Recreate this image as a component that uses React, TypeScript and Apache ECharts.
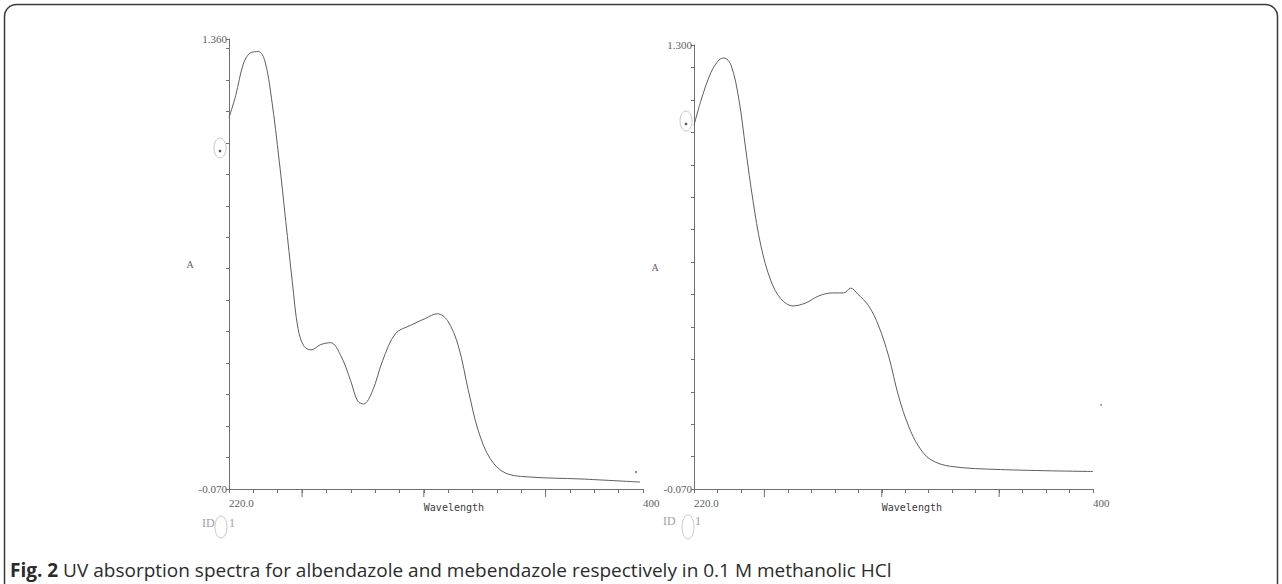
import React, { useEffect, useRef } from "react";
import * as echarts from "echarts";

// ---- data ----
const LEFT_WL = [220, 222.9, 226.2, 229.1, 232.8, 235.6, 238.5, 241.8, 244.7, 247.5, 250.0, 252.5, 255.6, 259.9, 264.2, 268.6, 272.9, 275.9, 278.5, 282.4, 286.8, 292.4, 298.9, 305.4, 310.6, 315.0, 319.7, 324.1, 328.4, 333.6, 340.1, 351.0, 372.6, 398.7];
const LEFT_ABS = [1.11, 1.18, 1.28, 1.315, 1.32, 1.29, 1.17, 0.975, 0.78, 0.59, 0.44, 0.385, 0.372, 0.389, 0.395, 0.354, 0.274, 0.21, 0.2, 0.242, 0.338, 0.424, 0.45, 0.472, 0.487, 0.465, 0.385, 0.242, 0.115, 0.026, -0.019, -0.032, -0.038, -0.048];

const RIGHT_WL = [220, 223.2, 227.7, 231.3, 233.5, 236.7, 240.3, 243.4, 246.6, 250.2, 254.7, 259.2, 264.6, 270.4, 276.3, 282.6, 287.5, 290.7, 293.8, 298.8, 303.3, 307.8, 312.3, 316.8, 321.3, 326.7, 335.7, 358.2, 400];
const RIGHT_ABS = [1.052, 1.13, 1.216, 1.254, 1.26, 1.238, 1.13, 0.975, 0.82, 0.68, 0.572, 0.517, 0.495, 0.504, 0.526, 0.535, 0.535, 0.55, 0.532, 0.495, 0.433, 0.34, 0.216, 0.124, 0.062, 0.021, 0.0, -0.01, -0.016];

const WL_MIN = 220;
const WL_MAX = 400;
const X_TICK_COUNT = 17; // divisions on the printed wavelength axis
const X_LABEL_INDEX = [0, 8, 17];
const X_LABEL_TEXT = ["220.0", "Wavelength", "400"];
const LONG_TICKS = [3, 8, 13];

const LEFT_Y = { min: -0.07, max: 1.36, top: "1.360", bottom: "-0.070" };
const RIGHT_Y = { min: -0.07, max: 1.3, top: "1.300", bottom: "-0.070" };
const Y_TICK_STEP = 0.1;

const CAPTION_BOLD = "Fig. 2";
const CAPTION_TEXT = " UV absorption spectra for albendazole and mebendazole respectively in 0.1 M methanolic HCl";

const INK = "#5e5e5e";
const AXIS = "#707070";
const LABEL_FONT = "Liberation Serif";

function xLabel(v: number) {
  const i = X_LABEL_INDEX.findIndex((k) => Math.abs(k - v) < 1e-6);
  if (i < 0) return "";
  return X_LABEL_TEXT[i] === "Wavelength" ? "{w|Wavelength}" : X_LABEL_TEXT[i];
}

function buildPanel(idx: number, yr: { min: number; max: number; top: string; bottom: string }) {
  const span = +(yr.max - yr.min).toFixed(4);
  const xAxes = [
    { gridIndex: idx, type: "value", min: WL_MIN, max: WL_MAX, show: false },
    {
      gridIndex: idx,
      type: "value",
      min: 0,
      max: X_TICK_COUNT,
      interval: 1,
      position: "bottom",
      axisLine: { show: true, lineStyle: { color: AXIS, width: 1 } },
      axisTick: { show: true, length: 4, lineStyle: { color: AXIS } },
      splitLine: { show: false },
      axisLabel: {
        formatter: xLabel,
        align: "left",
        margin: 8,
        color: INK,
        fontFamily: LABEL_FONT,
        fontSize: 11,
        rich: { w: { fontFamily: "DejaVu Sans Mono", fontSize: 10, color: "#3c3c3c", padding: [5, 0, 0, 0] } },
      },
    },
  ];
  const yAxes = [
    { gridIndex: idx, type: "value", min: yr.min, max: yr.max, show: false },
    {
      gridIndex: idx,
      type: "value",
      min: 0,
      max: span,
      interval: Y_TICK_STEP,
      position: "left",
      name: "A",
      nameLocation: "middle",
      nameRotate: 0,
      nameGap: 10,
      nameTextStyle: { color: INK, fontFamily: LABEL_FONT, fontSize: 10, padding: [14, 0, 0, 0] },
      axisLine: { show: true, lineStyle: { color: AXIS, width: 1 } },
      axisTick: { show: true, length: 3, lineStyle: { color: AXIS } },
      splitLine: { show: false },
      axisLabel: {
        margin: 2,
        color: INK,
        fontFamily: LABEL_FONT,
        fontSize: 11,
        formatter: (v: number) => (Math.abs(v) < 1e-6 ? yr.bottom : Math.abs(v - span) < 1e-6 ? yr.top : ""),
      },
    },
  ];
  return { xAxes, yAxes };
}

export default function App() {
  const ref = useRef<HTMLDivElement>(null);
  useEffect(() => {
    if (!ref.current) return;
    const chart = echarts.init(ref.current, undefined, { renderer: "svg" });
    const L = buildPanel(0, LEFT_Y);
    const R = buildPanel(1, RIGHT_Y);
    const xAxis = [...L.xAxes, ...R.xAxes];
    const yAxis = [...L.yAxes, ...R.yAxes];
    const longTick = (xi: number, yi: number) => ({
      type: "custom",
      xAxisIndex: xi,
      yAxisIndex: yi,
      clip: false,
      silent: true,
      data: LONG_TICKS.map((v) => [v]),
      renderItem: (_p: any, api: any) => {
        const p = api.coord([api.value(0), 0]);
        return {
          type: "line",
          shape: { x1: p[0], y1: p[1], x2: p[0], y2: p[1] + 8 },
          style: { stroke: AXIS, lineWidth: 1 },
        };
      },
    });
    const spectrum = (xi: number, yi: number, wl: number[], ab: number[]) => ({
      type: "line",
      xAxisIndex: xi,
      yAxisIndex: yi,
      data: wl.map((w, i) => [w, ab[i]]),
      smooth: 0.35,
      symbol: "none",
      lineStyle: { color: INK, width: 1 },
    });
    chart.setOption({
      animation: false,
      backgroundColor: "#ffffff",
      grid: [
        { left: 229, top: 39, width: 414, height: 450 },
        { left: 694, top: 45, width: 399, height: 444 },
      ],
      xAxis,
      yAxis,
      series: [
        spectrum(0, 0, LEFT_WL, LEFT_ABS),
        longTick(1, 1),
        spectrum(2, 2, RIGHT_WL, RIGHT_ABS),
        longTick(3, 3),
      ],
      graphic: [
        {
          type: "rect",
          shape: { x: 4.5, y: 4.5, width: 1273, height: 640, r: 12 },
          style: { fill: "none", stroke: "#3a3a3a", lineWidth: 1.5 },
          silent: true,
        },
        {
          type: "text",
          x: 10,
          y: 570,
          style: {
            text: "{b|" + CAPTION_BOLD + "}" + CAPTION_TEXT,
            fontFamily: "Open Sans",
            fontSize: 19,
            fill: "#2b2b2b",
            verticalAlign: "middle",
            rich: { b: { fontFamily: "Open Sans", fontWeight: "bold", fontSize: 19, fill: "#2b2b2b" } },
          },
        },
        // "ID( )1" markers under each panel
        { type: "text", x: 202, y: 523, style: { text: "ID", fontFamily: LABEL_FONT, fontSize: 12, fill: "#a0a0a0", verticalAlign: "middle" } },
        { type: "ellipse", shape: { cx: 221, cy: 527, rx: 6, ry: 11 }, style: { fill: "none", stroke: "#c8c8c8", lineWidth: 1 } },
        { type: "text", x: 229, y: 523, style: { text: "1", fontFamily: LABEL_FONT, fontSize: 12, fill: "#a0a0a0", verticalAlign: "middle" } },
        { type: "text", x: 663, y: 521, style: { text: "ID", fontFamily: LABEL_FONT, fontSize: 12, fill: "#a0a0a0", verticalAlign: "middle" } },
        { type: "ellipse", shape: { cx: 688, cy: 527, rx: 6, ry: 12 }, style: { fill: "none", stroke: "#c8c8c8", lineWidth: 1 } },
        { type: "text", x: 695, y: 521, style: { text: "1", fontFamily: LABEL_FONT, fontSize: 12, fill: "#a0a0a0", verticalAlign: "middle" } },
        // scanned hole marks beside the y axes
        { type: "ellipse", shape: { cx: 220, cy: 148, rx: 6, ry: 10 }, style: { fill: "none", stroke: "#c8c8c8", lineWidth: 1 } },
        { type: "circle", shape: { cx: 220, cy: 151, r: 1.3 }, style: { fill: "#555" } },
        { type: "ellipse", shape: { cx: 686, cy: 121, rx: 6, ry: 10 }, style: { fill: "none", stroke: "#c8c8c8", lineWidth: 1 } },
        { type: "circle", shape: { cx: 686, cy: 124, r: 1.3 }, style: { fill: "#555" } },
        { type: "circle", shape: { cx: 636, cy: 472, r: 1.2 }, style: { fill: "#888" } },
        { type: "circle", shape: { cx: 1101, cy: 405, r: 1 }, style: { fill: "#999" } },
      ],
    });
    return () => chart.dispose();
  }, []);
  return (
    <div
      ref={ref}
      style={{ position: "fixed", left: 0, top: 0, width: 1282, height: 584, background: "#fff" }}
    />
  );
}
